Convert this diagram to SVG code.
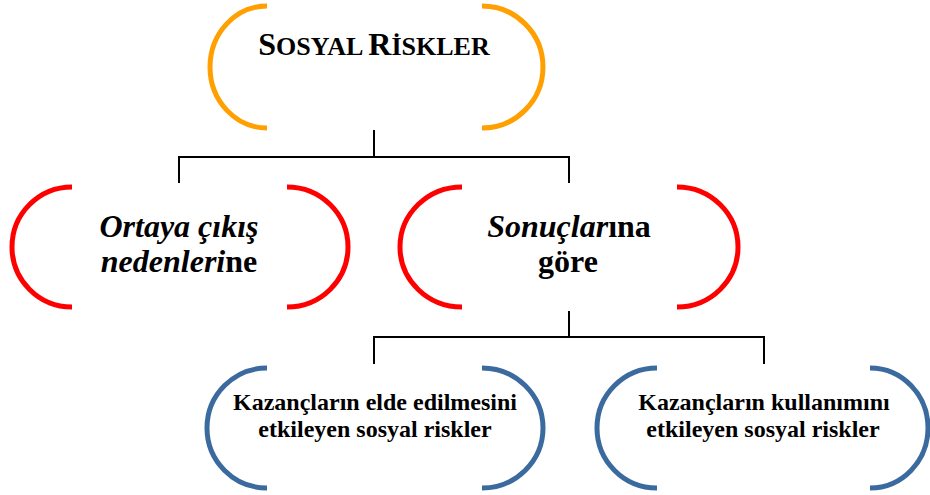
<svg xmlns="http://www.w3.org/2000/svg" width="930" height="495" viewBox="0 0 930 495">
<style>
.br{fill:none;stroke-width:5}
.o{stroke:#FF9F00}
.r{stroke:#FF0000}
.b{stroke:#3A6A9E}
.t{font-family:"Liberation Serif","Times New Roman",serif;font-weight:bold;fill:#000;text-anchor:middle}
.i{font-style:italic}
.con{fill:none;stroke:#000;stroke-width:2}
</style>
<rect width="930" height="495" fill="#fff"/>
<g id="connectors">
<path class="con" d="M374,130 V157 M179,183 V157 H569 V183"/>
<path class="con" d="M569,311 V337 M374,364 V337 H764 V364"/>
</g>
<g id="node-sosyal-riskler">
<path class="br o" d="M267,6 A57,61 0 0 0 267,128"/>
<path class="br o" d="M482,6 A61,61 0 0 1 482,128"/>
<text class="t" x="374" y="55"><tspan font-size="32">S</tspan><tspan font-size="26">OSYAL </tspan><tspan font-size="32">R</tspan><tspan font-size="26">İSKLER</tspan></text>
</g>
<g id="node-ortaya">
<path class="br r" d="M72,187 A60,60 0 0 0 72,307"/>
<path class="br r" d="M287,187 A61,60 0 0 1 287,307"/>
<text class="t" x="179" y="237" font-size="32"><tspan class="i">Ortaya çıkış</tspan></text>
<text class="t" x="179" y="272" font-size="32"><tspan class="i">nedenleri</tspan>ne</text>
</g>
<g id="node-sonuclarina">
<path class="br r" d="M462,187 A62,60 0 0 0 462,307"/>
<path class="br r" d="M677,187 A61,60 0 0 1 677,307"/>
<text class="t" x="569" y="237" font-size="32"><tspan class="i">Sonuçlar</tspan>ına</text>
<text class="t" x="568" y="272" font-size="32">göre</text>
</g>
<g id="node-kazanc-elde">
<path class="br b" d="M267,368 A60,60 0 0 0 267,488"/>
<path class="br b" d="M482,368 A61,60 0 0 1 482,488"/>
<text class="t" x="375" y="410" font-size="24">Kazançların elde edilmesini</text>
<text class="t" x="375" y="437" font-size="24">etkileyen sosyal riskler</text>
</g>
<g id="node-kazanc-kullanim">
<path class="br b" d="M657,368 A60,60 0 0 0 657,488"/>
<path class="br b" d="M870,368 A58,60 0 0 1 870,488"/>
<text class="t" x="764" y="410" font-size="24">Kazançların kullanımını</text>
<text class="t" x="763" y="437" font-size="24">etkileyen sosyal riskler</text>
</g>
</svg>
